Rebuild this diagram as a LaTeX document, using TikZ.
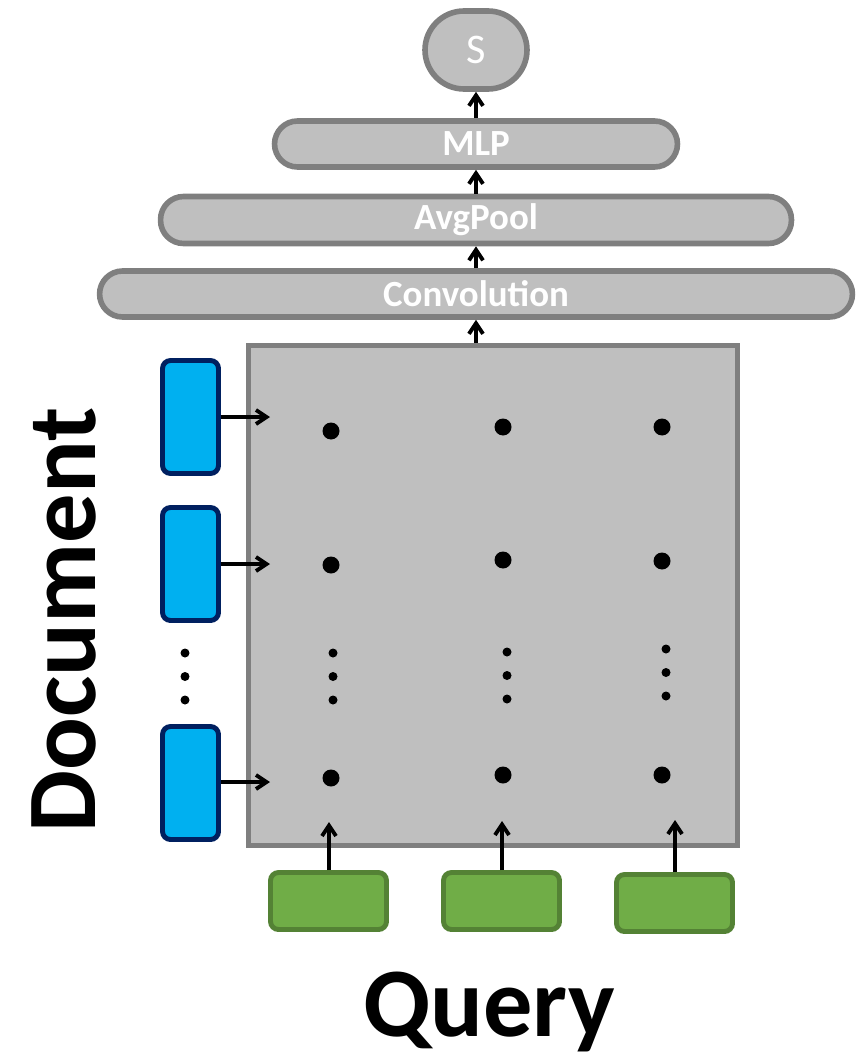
\documentclass[tikz,border=0pt]{standalone}
\usepackage{fontspec}
\setmainfont{Carlito}
\usetikzlibrary{arrows.meta}

\definecolor{boxgray}{HTML}{BFBFBF}
\definecolor{linegray}{HTML}{7F7F7F}
\definecolor{docblue}{HTML}{00B0F0}
\definecolor{docline}{HTML}{002060}
\definecolor{qgreen}{HTML}{70AD47}
\definecolor{qline}{HTML}{548235}

\tikzset{
  layer/.style={draw=linegray, fill=boxgray, line width=3.2pt, text=white,
    font=\bfseries\fontsize{21}{24}\selectfont, minimum height=0.92cm,
    rounded corners=0.46cm},
  docvec/.style={draw=docline, fill=docblue, line width=2.8pt,
    minimum width=1.12cm, minimum height=2.26cm, rounded corners=0.16cm},
  qvec/.style={draw=qline, fill=qgreen, line width=2.8pt,
    minimum width=2.32cm, minimum height=1.14cm, rounded corners=0.16cm},
  cell/.style={circle, fill=black, inner sep=0pt, minimum size=0.34cm},
  dot/.style={circle, fill=black, inner sep=0pt, minimum size=0.18cm},
  flow/.style={-{Straight Barb[length=6pt,width=8pt]}, line width=2.2pt},
  big/.style={font=\bfseries\fontsize{56}{60}\selectfont}
}

\begin{document}
\begin{tikzpicture}[x=0.02cm, y=-0.02cm]
  \useasboundingbox (0,0) rectangle (863,1054);

  % interaction matrix
  \node[draw=linegray, fill=boxgray, line width=2.8pt,
        minimum width=9.78cm, minimum height=10cm] (grid) at (493,595.5) {};

  % layers on top
  \node[layer, minimum width=15.06cm] (conv) at (476,294) {Convolution};
  \node[layer, minimum width=12.62cm, minimum height=0.94cm] (pool) at (476,220) {AvgPool};
  \node[layer, minimum width=8.06cm] (mlp) at (476,144) {MLP};
  \node[layer, font=\fontsize{24}{26}\selectfont, minimum width=2.04cm,
        minimum height=1.56cm, rounded corners=0.78cm] (score) at (476,50) {S};

  \draw[flow] (conv.south |- grid.north) -- (conv.south);
  \draw[flow] (conv.north) -- (pool.south);
  \draw[flow] (pool.north) -- (mlp.south);
  \draw[flow] (mlp.north) -- (score.south);

  % document vectors
  \node[docvec] (d1) at (190.5,417) {};
  \node[docvec] (d2) at (190.5,564) {};
  \node[docvec] (d3) at (190.5,783) {};
  \coordinate (r1) at (270,417);
  \coordinate (r2) at (270,564);
  \coordinate (r3) at (270,782);
  \foreach \i in {1,2,3}
    \draw[flow] (d\i.east |- r\i) -- (r\i);

  % query vectors
  \node[qvec] (q1) at (328.5,901) {};
  \node[qvec] (q2) at (501.5,901) {};
  \node[qvec] (q3) at (674.5,903) {};
  \coordinate (c1) at (329,822);
  \coordinate (c2) at (502,821);
  \coordinate (c3) at (675,820);
  \foreach \i in {1,2,3}
    \draw[flow] (q\i.north -| c\i) -- (c\i);

  % matching cells
  \node[cell] (m11) at (331,431) {};
  \node[cell] (m12) at (503,427) {};
  \node[cell] (m13) at (662,427) {};
  \node[cell] (m21) at (331,565) {};
  \node[cell] (m22) at (503,560) {};
  \node[cell] (m23) at (662,561) {};
  \node[cell] (m31) at (331,778) {};
  \node[cell] (m32) at (503,775) {};
  \node[cell] (m33) at (662,775) {};

  % vertical ellipses
  \foreach \x/\y in {185/653, 333/653, 507/652, 666/649}
    \foreach \k in {0,1,2}
      \node[dot] at (\x,\y+23.5*\k) {};

  % axis labels
  \node[big, rotate=90, anchor=base, inner sep=0pt] (doc) at (95,620) {Document};
  \node[big, anchor=base, inner sep=0pt] (query) at (489,1036) {Query};
\end{tikzpicture}
\end{document}
